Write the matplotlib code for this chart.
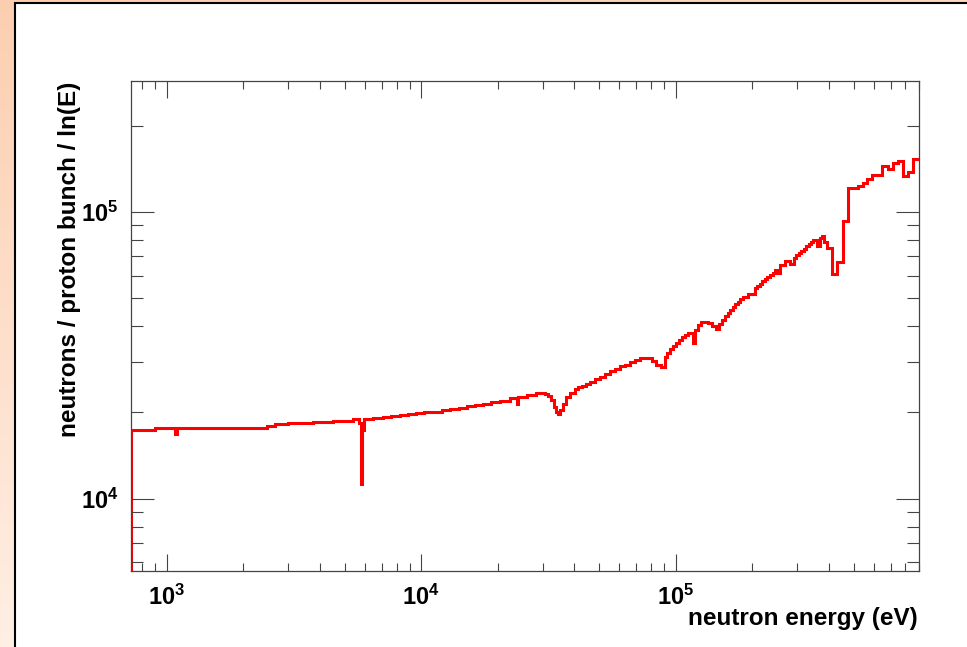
import numpy as np
import matplotlib
matplotlib.use("Agg")
import matplotlib.pyplot as plt
from matplotlib.ticker import LogLocator, FuncFormatter, NullFormatter
from matplotlib.patches import Rectangle

plt.rcParams["font.family"] = ["Liberation Sans", "DejaVu Sans"]
plt.rcParams["mathtext.fontset"] = "custom"
plt.rcParams["mathtext.rm"] = "Liberation Sans"
plt.rcParams["mathtext.bf"] = "Liberation Sans:bold"

# Neutron spectrum: lower bin edges (eV) where the level changes, and the level in each bin
edges_eV = [
    724, 900, 1078, 1098, 1292, 2472, 2665, 2997, 3757, 4514,
    5395, 5695, 5800, 5879, 5958, 6494, 7079, 7642, 8254, 8874,
    9541, 10300, 11130, 12020, 12980, 14020, 15140, 16270, 17490, 18890,
    20400, 22330, 23900, 24120, 26050, 28260, 30650, 31490, 32360, 33240,
    34010, 34630, 35270, 36080, 37240, 38440, 40210, 41500, 42840, 44420,
    46050, 48180, 50420, 52760, 55210, 57740, 60420, 63210, 66150, 69210,
    72410, 80720, 84060, 87540, 90780, 92860, 94980, 97590, 100300, 103000,
    105900, 108800, 111800, 116950, 119060, 122330, 126300, 134570, 138900, 144000,
    147970, 152000, 156200, 160500, 164200, 167900, 171800, 175700, 179700, 183800,
    192300, 204900, 209600, 214400, 219300, 224300, 229500, 234800, 240200, 245600,
    252400, 257000, 268900, 281200, 291600, 298300, 305200, 312200, 319200, 326500,
    334100, 340100, 348000, 360800, 369000, 377400, 384300, 393100, 410200, 431500,
    453100, 474100, 522800, 547000, 567100, 590500, 649500, 685600, 714100, 747200,
    785400, 821700, 859800,
]
neutrons_per_bunch = [
    17370, 17600, 16770, 17600, 17690, 17930, 18180, 18420, 18560, 18710,
    18920, 18370, 11250, 17370, 18920, 19120, 19320, 19460, 19590, 19740,
    19910, 20020, 20120, 20340, 20560, 20800, 21050, 21260, 21480, 21740,
    21970, 22370, 21390, 22690, 23090, 23310, 23180, 22810, 22100, 20880,
    20060, 19740, 20390, 21390, 22630, 23310, 24130, 24430, 24730, 25130,
    25590, 26050, 26580, 27230, 27890, 28400, 28920, 29380, 29860, 30390,
    30890, 30220, 29260, 28800, 31210, 32230, 33270, 34090, 34920, 35770,
    36500, 37240, 37840, 34920, 38760, 40350, 41340, 40850, 40040, 39090,
    40670, 42010, 43210, 44440, 45530, 46630, 47590, 48550, 49540, 50530,
    51760, 54310, 55190, 56100, 57220, 58390, 59330, 60300, 61440, 62520,
    61030, 65350, 67490, 65890, 69140, 70530, 71950, 73110, 74300, 75810,
    77340, 78620, 79870, 76100, 81170, 82480, 78620, 74890, 60630, 67110,
    93260, 120960, 122700, 126240, 130330, 134600, 144720, 140900, 148590, 150620,
    133540, 138220, 152690,
]
upper_edge_eV = 940000

x_range = (724, 9.04e5)
y_range = (5.6e3, 2.86e5)
x_title = "neutron energy (eV)"
y_title = "neutrons / proton bunch / ln(E)"

W, H = 967, 647
fig = plt.figure(figsize=(W / 100, H / 100), dpi=100)

# slide-like backdrop: peach gradient with a white panel framed in black
bg = fig.add_axes([0, 0, 1, 1], zorder=-10)
yy, xx = np.mgrid[0:1:200j, 0:1:200j]
t = np.clip(0.85 * yy + 0.25 * xx, 0, 1)[..., None]
c_top = np.array([0.99, 0.81, 0.69])
c_bot = np.array([1.0, 0.96, 0.93])
bg.imshow(c_top + (c_bot - c_top) * t, aspect="auto", extent=[0, 1, 0, 1], origin="upper")
bg.set_axis_off()
fig.add_artist(Rectangle((15 / W, -0.02), 1.0, 1 - 3 / H + 0.02, transform=fig.transFigure,
                         facecolor="white", edgecolor="black", linewidth=1.5, zorder=-5))

ax = fig.add_axes([131 / W, 1 - 571 / H, (919 - 131) / W, (571 - 81) / H])
ax.set_facecolor("white")
ax.set_xscale("log")
ax.set_yscale("log")

ax.stairs(neutrons_per_bunch, edges_eV + [upper_edge_eV], baseline=1.0, fill=False,
          color="#ff0000", linewidth=2.2, joinstyle="miter")

ax.set_xlim(*x_range)
ax.set_ylim(*y_range)

frame = "#444444"
for s in ax.spines.values():
    s.set_color(frame)
    s.set_linewidth(0.9)

pow_fmt = FuncFormatter(lambda v, p: r"$\mathbf{10^{%d}}$" % round(np.log10(v)))
for axis in (ax.xaxis, ax.yaxis):
    axis.set_major_locator(LogLocator(base=10, numticks=20))
    axis.set_minor_locator(LogLocator(base=10, subs=np.arange(2, 10) * 1.0, numticks=100))
    axis.set_major_formatter(pow_fmt)
    axis.set_minor_formatter(NullFormatter())

ax.tick_params(which="both", direction="in", top=True, right=True, color=frame, width=0.8,
               labelsize=17, labelcolor="black")
ax.tick_params(axis="x", which="major", length=12.2, pad=10)
ax.tick_params(axis="x", which="minor", length=5.8)
ax.tick_params(axis="y", which="major", length=16.3, pad=9)
ax.tick_params(axis="y", which="minor", length=8.6)

fig.text(918 / W, 1 - 625 / H, x_title, ha="right", va="baseline",
         fontsize=17.5, fontweight="bold")
fig.text(70 / W, 1 - 82 / H, y_title, ha="center", va="top", rotation=90,
         fontsize=17.5, fontweight="bold")

fig.savefig("out.png", dpi=100)
